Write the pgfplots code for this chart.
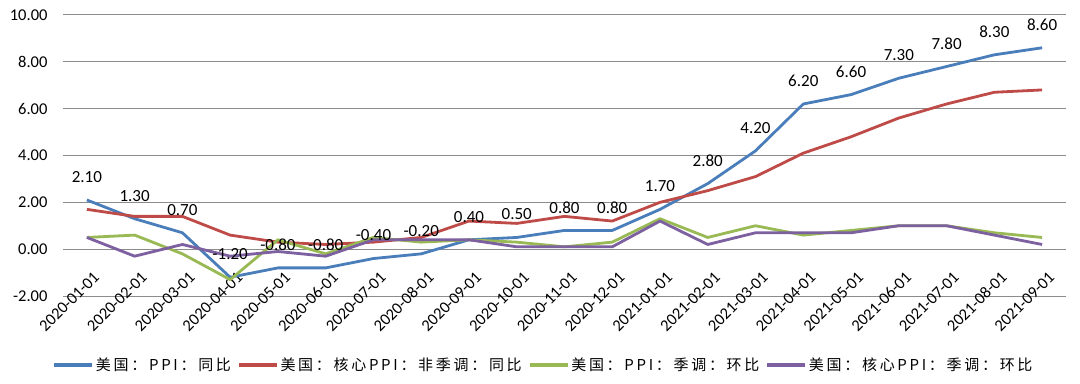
\documentclass[border=0pt]{standalone}
\usepackage{pgfplots}
\pgfplotsset{compat=1.18}
\usepackage{fontspec}
\setmainfont{Carlito}
\newfontfamily\cjk[LetterSpace=18]{Noto Sans CJK SC}
\definecolor{cblue}{HTML}{4A7EBB}
\definecolor{cred}{HTML}{BE4B48}
\definecolor{cgreen}{HTML}{98B954}
\definecolor{cpurple}{HTML}{7D60A0}
\definecolor{cgrid}{HTML}{8C8C8C}
\begin{document}
\begin{tikzpicture}
\useasboundingbox (0,0) rectangle (1080bp,384bp);
\begin{axis}[
  at={(63bp,88bp)}, anchor=south west,
  scale only axis, width=1003bp, height=281bp,
  xmin=-0.5, xmax=20.5, ymin=-2, ymax=10,
  ytick={-2,0,2,4,6,8,10},
  xtick={0,...,20},
  xticklabels={2020-01-01,2020-02-01,2020-03-01,2020-04-01,2020-05-01,2020-06-01,2020-07-01,2020-08-01,2020-09-01,2020-10-01,2020-11-01,2020-12-01,2021-01-01,2021-02-01,2021-03-01,2021-04-01,2021-05-01,2021-06-01,2021-07-01,2021-08-01,2021-09-01},
  /pgf/number format/assume math mode=true,
  yticklabel={\pgfmathprintnumber[fixed,fixed zerofill,precision=2]{\tick}},
  yticklabel style={font=\fontsize{16.5bp}{18bp}\selectfont, anchor=east, xshift=-12bp},
  xticklabel style={font=\fontsize{16.5bp}{18bp}\selectfont, xshift=12bp, yshift=24bp, rotate=45, anchor=east},
  axis line style={draw=none},
  tick style={draw=none},
  ymajorgrids, grid style={cgrid, line width=1bp},
  legend columns=4,
  legend style={at={(0.479,-0.2456)}, anchor=center, draw=none, fill=none,
    font=\cjk\fontsize{15bp}{17bp}\selectfont, inner sep=0pt,
    /tikz/every even column/.append style={column sep=4bp}},
  legend image code/.code={\draw[#1, line width=3.6bp] (0bp,0bp) -- (38bp,0bp);},
  every axis plot/.append style={line width=2.8bp, line join=round},
]
\addplot[cblue, nodes near coords={\pgfmathprintnumber[fixed,fixed zerofill,precision=2]{\pgfplotspointmeta}},
  point meta=y,
  nodes near coords style={font=\fontsize{17bp}{19bp}\selectfont, text=black, anchor=center, yshift=23bp}]
coordinates {(0,2.1)(1,1.3)(2,0.7)(3,-1.2)(4,-0.8)(5,-0.8)(6,-0.4)(7,-0.2)(8,0.4)(9,0.5)(10,0.8)(11,0.8)(12,1.7)(13,2.8)(14,4.2)(15,6.2)(16,6.6)(17,7.3)(18,7.8)(19,8.3)(20,8.6)};
\addlegendentry{美国：PPI：同比}
\addplot[cred] coordinates {(0,1.7)(1,1.4)(2,1.4)(3,0.6)(4,0.3)(5,0.2)(6,0.3)(7,0.5)(8,1.2)(9,1.1)(10,1.4)(11,1.2)(12,2.0)(13,2.5)(14,3.1)(15,4.1)(16,4.8)(17,5.6)(18,6.2)(19,6.7)(20,6.8)};
\addlegendentry{美国：核心PPI：非季调：同比}
\addplot[cgreen] coordinates {(0,0.5)(1,0.6)(2,-0.2)(3,-1.3)(4,0.4)(5,-0.2)(6,0.5)(7,0.3)(8,0.4)(9,0.3)(10,0.1)(11,0.3)(12,1.3)(13,0.5)(14,1.0)(15,0.6)(16,0.8)(17,1.0)(18,1.0)(19,0.7)(20,0.5)};
\addlegendentry{美国：PPI：季调：环比}
\addplot[cpurple] coordinates {(0,0.5)(1,-0.3)(2,0.2)(3,-0.3)(4,-0.1)(5,-0.3)(6,0.4)(7,0.4)(8,0.4)(9,0.1)(10,0.1)(11,0.1)(12,1.2)(13,0.2)(14,0.7)(15,0.7)(16,0.7)(17,1.0)(18,1.0)(19,0.6)(20,0.2)};
\addlegendentry{美国：核心PPI：季调：环比}
\end{axis}
\end{tikzpicture}
\end{document}
